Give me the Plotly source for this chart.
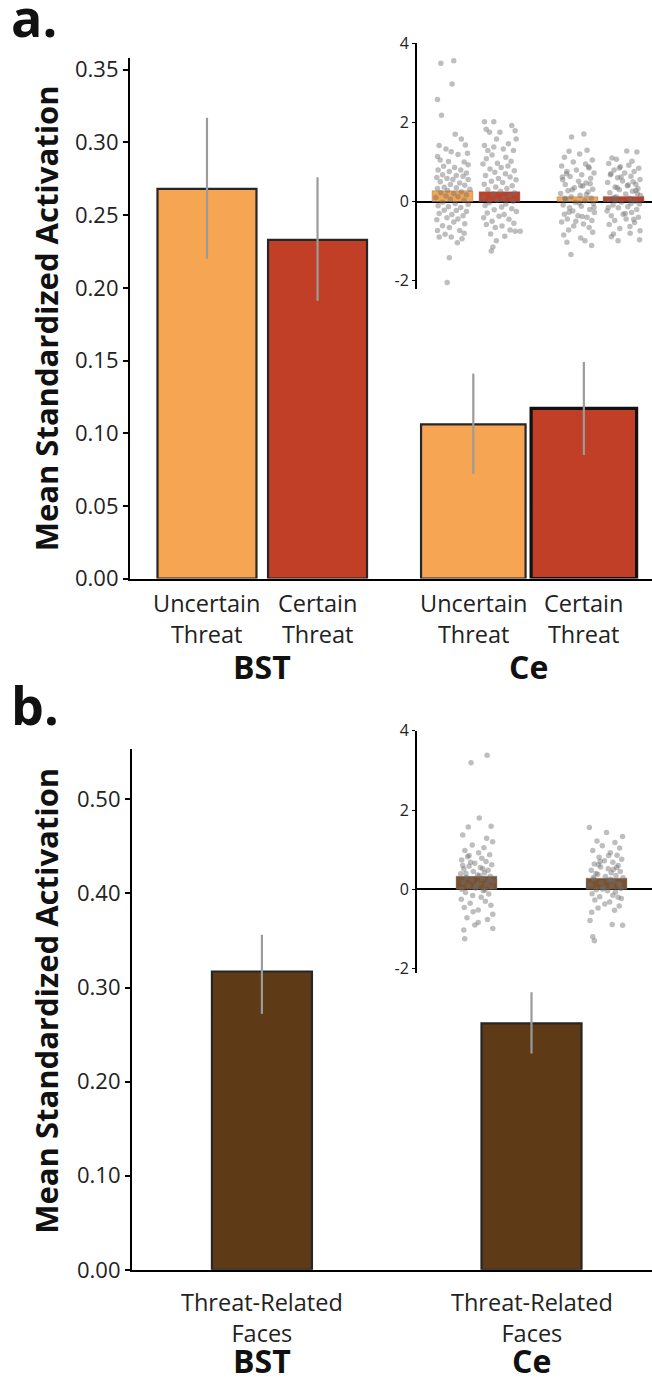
import plotly.graph_objects as go

# ---------------- DATA ----------------
a_conditions = ["Uncertain<br>Threat", "Certain<br>Threat", "Uncertain<br>Threat", "Certain<br>Threat"]
regions = ["BST", "Ce"]
a_means = [0.268, 0.233, 0.106, 0.117]
a_err_hi = [0.317, 0.276, 0.141, 0.149]
a_err_lo = [0.220, 0.191, 0.072, 0.085]
a_inset_means = [0.27, 0.25, 0.12, 0.13]

b_conditions = ["Threat-Related<br>Faces", "Threat-Related<br>Faces"]
b_means = [0.317, 0.262]
b_err_hi = [0.356, 0.295]
b_err_lo = [0.272, 0.230]
b_inset_means = [0.33, 0.28]

a_yticks = [0.00, 0.05, 0.10, 0.15, 0.20, 0.25, 0.30, 0.35]
b_yticks = [0.00, 0.10, 0.20, 0.30, 0.40, 0.50]
inset_ticks = [-2, 0, 2, 4]

# individual subject values (read approx. from the insets), with horizontal jitter
a1_y = [3.50,3.56,2.97,2.58,2.18,1.70,1.58,1.42,1.43,1.33,1.26,1.22,1.14,1.19,1.05,1.01,1.00,0.93,0.89,0.86,0.80,0.80,0.76,0.72,0.68,0.66,0.61,0.64,0.58,0.56,0.56,0.50,0.47,0.43,0.41,0.36,0.35,0.33,0.31,0.28,0.25,0.22,0.20,0.17,0.14,0.12,0.10,0.06,0.03,-0.02,-0.05,-0.07,-0.11,-0.13,-0.15,-0.22,-0.23,-0.25,-0.30,-0.33,-0.36,-0.41,-0.44,-0.46,-0.52,-0.56,-0.61,-0.66,-0.73,-0.73,-0.80,-0.83,-0.90,-0.90,-0.94,-1.04,-1.42,-2.05]
a1_dx = [-0.55,0.06,-0.02,-0.71,-0.52,0.13,0.42,-0.63,0.61,-0.31,-0.06,0.71,-0.71,0.26,-0.58,-0.19,0.55,0.74,-0.42,0.10,-0.68,0.39,-0.15,0.66,-0.47,0.18,-0.74,0.50,-0.26,0.02,0.74,-0.58,0.34,-0.10,0.58,-0.39,0.18,-0.71,0.82,-0.23,0.42,-0.55,0.06,0.66,-0.31,0.26,-0.79,-0.10,0.55,-0.47,0.13,0.74,-0.68,-0.19,0.39,-0.39,0.18,0.66,-0.63,-0.03,0.50,-0.26,0.26,-0.74,0.06,0.58,-0.47,-0.15,0.34,-0.71,0.55,-0.35,-0.63,-0.06,0.45,0.23,-0.15,-0.25]

a2_y = [2.02,2.02,1.92,1.83,1.75,1.75,1.79,1.58,1.58,1.42,1.38,1.46,1.29,1.33,1.29,1.18,1.12,1.08,1.02,0.97,0.95,0.90,0.86,0.82,0.78,0.74,0.70,0.66,0.62,0.58,0.55,0.51,0.48,0.44,0.40,0.37,0.33,0.30,0.26,0.22,0.19,0.15,0.11,0.08,0.04,0.01,-0.03,-0.06,-0.10,-0.14,-0.18,-0.21,-0.25,-0.29,-0.33,-0.37,-0.41,-0.45,-0.50,-0.55,-0.58,-0.62,-0.66,-0.72,-0.75,-0.75,-0.82,-0.88,-0.99,-1.15,-1.25]
a2_dx = [-0.71,-0.27,0.58,-0.63,-0.47,0.02,0.74,-0.14,0.79,-0.71,-0.27,0.42,-0.55,0.18,0.66,-0.35,0.30,-0.62,0.55,-0.10,-0.78,0.40,0.08,-0.45,0.70,-0.22,0.28,-0.66,0.50,-0.05,0.78,-0.38,0.15,-0.72,0.60,-0.18,0.35,-0.55,0.05,0.72,-0.30,0.48,-0.75,0.20,-0.12,0.65,-0.48,0.30,-0.68,0.10,0.58,-0.25,0.80,-0.58,0.22,-0.02,-0.75,0.45,-0.35,0.68,-0.62,0.12,-0.20,0.50,0.74,0.98,-0.42,0.25,-0.15,-0.31,-0.39]

a3_y = [1.71,1.63,1.30,1.27,1.20,1.12,1.05,1.00,0.95,0.90,0.85,0.80,0.76,0.72,0.68,0.63,0.59,0.55,0.51,0.47,0.43,0.39,0.35,0.31,0.27,0.24,0.20,0.16,0.12,0.09,0.05,0.02,-0.02,-0.05,-0.09,-0.12,-0.16,-0.20,-0.24,-0.28,-0.32,-0.36,-0.40,-0.44,-0.48,-0.52,-0.57,-0.62,-0.66,-0.72,-0.78,-0.85,-0.92,-0.99,-1.03,-1.11,-1.34,0.62,0.45,0.30,0.18,0.08,-0.04,-0.15,-0.27,-0.38,-0.50,0.88,0.70,0.40]
a3_dx = [0.30,-0.28,0.45,-0.40,0.10,-0.62,0.70,-0.20,0.38,-0.75,0.55,-0.05,-0.50,0.78,0.20,-0.35,0.62,-0.70,0.05,0.40,-0.58,0.25,-0.15,0.72,-0.45,0.50,-0.80,0.12,-0.30,0.65,-0.55,0.35,-0.10,0.75,-0.68,0.18,-0.38,0.58,-0.22,0.80,-0.62,0.02,0.45,-0.48,0.68,-0.75,0.28,-0.18,0.55,-0.42,0.72,-0.65,0.15,0.35,-0.50,0.67,-0.31,-0.72,0.60,-0.25,0.42,-0.60,0.08,0.78,-0.40,0.22,-0.08,0.52,-0.52,0.15]

a4_y = [1.28,1.25,1.10,1.07,1.02,0.96,0.92,0.88,0.84,0.80,0.76,0.72,0.68,0.64,0.60,0.56,0.52,0.48,0.44,0.40,0.37,0.33,0.30,0.26,0.22,0.19,0.15,0.12,0.08,0.05,0.01,-0.02,-0.06,-0.09,-0.13,-0.16,-0.20,-0.24,-0.28,-0.32,-0.36,-0.40,-0.44,-0.48,-0.53,-0.58,-0.63,-0.68,-0.74,-0.80,-0.82,-0.89,-0.97,-0.99,0.70,0.50,0.35,0.20,0.10,-0.05,-0.15,-0.30,0.62,0.42,0.28,0.02,-0.45,0.85]
a4_dx = [0.15,0.63,-0.55,-0.34,0.40,-0.70,0.25,-0.15,0.72,-0.45,0.50,0.05,-0.62,0.35,-0.28,0.78,-0.05,-0.75,0.58,0.18,-0.40,0.68,-0.20,0.42,-0.65,0.10,0.80,-0.35,0.28,-0.72,0.55,-0.10,0.75,-0.50,0.20,-0.25,0.62,-0.78,0.38,-0.02,-0.58,0.70,0.12,-0.42,0.52,-0.68,0.30,-0.18,0.78,0.31,-0.48,-0.58,0.76,-0.26,-0.60,0.45,-0.30,0.65,-0.45,0.35,-0.72,0.08,-0.12,0.22,0.58,-0.38,0.48,-0.20]

b1_y = [3.38,3.19,1.80,1.59,1.57,1.37,1.29,1.20,1.12,1.05,0.98,0.92,0.87,0.82,0.78,0.74,0.70,0.66,0.62,0.58,0.55,0.51,0.48,0.45,0.42,0.39,0.36,0.33,0.30,0.27,0.24,0.21,0.18,0.15,0.12,0.09,0.06,0.03,0.00,-0.04,-0.08,-0.12,-0.16,-0.20,-0.25,-0.30,-0.35,-0.40,-0.46,-0.52,-0.57,-0.63,-0.72,-0.76,-0.84,-0.90,-0.99,-1.03,-1.25,0.68,0.52,0.40,0.22,0.10,-0.02,0.60,0.35,0.85]
b1_dx = [0.50,-0.26,0.13,0.69,-0.39,-0.65,0.48,0.76,-0.20,0.35,-0.55,0.10,0.62,-0.42,0.25,-0.70,0.45,-0.08,0.72,-0.35,0.18,-0.60,0.55,-0.15,0.38,-0.75,0.05,0.65,-0.48,0.28,-0.22,0.78,-0.62,0.12,0.48,-0.38,0.70,-0.05,-0.70,0.32,-0.52,0.58,-0.18,0.22,-0.72,0.42,-0.30,0.68,-0.58,0.08,-0.16,0.77,-0.45,0.52,0.08,-0.08,0.77,-0.60,-0.56,-0.28,0.30,-0.50,0.60,0.00,0.40,-0.65,0.15,-0.35]

b2_y = [1.56,1.43,1.33,1.22,1.18,1.10,1.04,0.98,0.92,0.86,0.81,0.76,0.72,0.68,0.64,0.60,0.56,0.52,0.48,0.45,0.42,0.38,0.35,0.32,0.29,0.26,0.23,0.20,0.17,0.14,0.11,0.08,0.05,0.02,-0.01,-0.04,-0.07,-0.11,-0.15,-0.19,-0.23,-0.27,-0.32,-0.37,-0.42,-0.47,-0.53,-0.58,-0.79,-0.89,-0.91,-1.20,-1.30,0.70,0.55,0.40,0.25,0.12,0.00,0.50,0.30,0.85,-0.20,0.62]
b2_dx = [-0.81,0.00,0.76,-0.45,0.40,-0.20,0.62,-0.65,0.18,0.50,-0.35,0.72,-0.10,0.30,-0.58,0.55,-0.28,0.08,-0.72,0.65,0.22,-0.42,0.45,-0.05,0.78,-0.60,0.12,0.35,-0.25,0.58,-0.75,0.25,-0.15,0.68,-0.48,0.05,0.42,-0.68,0.30,-0.32,0.70,-0.55,0.15,-0.08,0.60,-0.40,0.38,-0.70,-0.78,0.27,0.76,-0.65,-0.57,-0.30,0.48,-0.50,0.20,0.65,-0.18,0.32,-0.62,0.10,0.55,-0.38]

# ---------------- STYLE / LAYOUT ----------------
W, H = 652, 1384
FONT = "Open Sans"
ORANGE, RED, BROWN = "#F6A552", "#C03F26", "#5E3A16"
a_colors = [ORANGE, RED, ORANGE, RED]
b_colors = [BROWN, BROWN]
EDGE = "#262626"
ERR = "#9B9B9B"
PT = "rgba(110,110,110,0.45)"

def fx(p):
    return p / W

def fy(p):
    return 1 - p / H

a_pos = [0, 1.1, 2.65, 3.75]
a_wid = [0.985, 0.985, 1.04, 1.05]
b_pos = [0, 1]
b_wid = 0.371
ai_pos = [0, 1, 2.66, 3.64]
bi_pos = [0, 2.766]
INSET_W = 0.87
JIT = 0.45

fig = go.Figure()

# Panel a main bars
fig.add_trace(go.Bar(
    x=a_pos, y=a_means, width=a_wid,
    marker=dict(color=a_colors, line=dict(color=[EDGE, EDGE, EDGE, "#111111"], width=[2.2, 2.2, 2.2, 3.2])),
    error_y=dict(type="data", symmetric=False,
                 array=[h - m for h, m in zip(a_err_hi, a_means)],
                 arrayminus=[m - l for m, l in zip(a_means, a_err_lo)],
                 color=ERR, thickness=2.2, width=0),
    xaxis="x", yaxis="y", showlegend=False, hoverinfo="skip"))

# Panel a inset bars + points
fig.add_trace(go.Bar(
    x=ai_pos, y=a_inset_means, width=INSET_W,
    marker=dict(color=a_colors, line=dict(color="rgba(120,120,120,0.6)", width=0.6)),
    xaxis="x2", yaxis="y2", showlegend=False, hoverinfo="skip"))
for c, ys, dxs in zip(ai_pos, [a1_y, a2_y, a3_y, a4_y], [a1_dx, a2_dx, a3_dx, a4_dx]):
    pts = list(zip(dxs, ys))
    fig.add_trace(go.Scatter(
        x=[c + d * JIT for d, _ in pts], y=[v for _, v in pts], mode="markers",
        marker=dict(size=5.5, color=PT, line=dict(width=0)),
        xaxis="x2", yaxis="y2", showlegend=False, hoverinfo="skip"))

# Panel b main bars
fig.add_trace(go.Bar(
    x=b_pos, y=b_means, width=b_wid,
    marker=dict(color=b_colors, line=dict(color=EDGE, width=2.2)),
    error_y=dict(type="data", symmetric=False,
                 array=[h - m for h, m in zip(b_err_hi, b_means)],
                 arrayminus=[m - l for m, l in zip(b_means, b_err_lo)],
                 color=ERR, thickness=2.2, width=0),
    xaxis="x3", yaxis="y3", showlegend=False, hoverinfo="skip"))

# Panel b inset
fig.add_trace(go.Bar(
    x=bi_pos, y=b_inset_means, width=INSET_W,
    marker=dict(color="#7A5230", line=dict(color="rgba(120,120,120,0.6)", width=0.6)),
    xaxis="x4", yaxis="y4", showlegend=False, hoverinfo="skip"))
for c, ys, dxs in zip(bi_pos, [b1_y, b2_y], [b1_dx, b2_dx]):
    pts = list(zip(dxs, ys))
    fig.add_trace(go.Scatter(
        x=[c + d * JIT for d, _ in pts], y=[v for _, v in pts], mode="markers",
        marker=dict(size=5.5, color=PT, line=dict(width=0)),
        xaxis="x4", yaxis="y4", showlegend=False, hoverinfo="skip"))

tickfont_main = dict(family=FONT, size=22, color="#222222")
tickfont_inset = dict(family=FONT, size=16, color="#222222")

def main_y(domain, rng, ticks, fmt):
    return dict(domain=domain, range=rng, showgrid=False, zeroline=False,
                showline=True, linecolor="black", linewidth=2.2,
                tickvals=ticks, ticktext=[fmt.format(t) for t in ticks],
                ticks="outside", ticklen=5, tickwidth=1.5, tickcolor="black",
                tickfont=tickfont_main, fixedrange=True)

def main_x(domain, rng):
    return dict(domain=domain, range=rng, showgrid=False, zeroline=False,
                showline=True, linecolor="black", linewidth=2.2,
                showticklabels=False, ticks="", fixedrange=True)

def inset_y(domain, rng, anchor):
    return dict(domain=domain, range=rng, anchor=anchor, showgrid=False,
                zeroline=True, zerolinecolor="black", zerolinewidth=2,
                showline=True, linecolor="black", linewidth=2,
                tickvals=inset_ticks, ticktext=[str(t) for t in inset_ticks],
                ticks="outside", ticklen=3, tickwidth=1, tickcolor="black",
                tickfont=tickfont_inset, fixedrange=True)

def inset_x(domain, rng, anchor):
    return dict(domain=domain, range=rng, anchor=anchor, visible=False, fixedrange=True)

fig.update_layout(
    width=W, height=H,
    margin=dict(l=0, r=0, t=0, b=0),
    paper_bgcolor="white", plot_bgcolor="rgba(0,0,0,0)",
    barmode="overlay",
    font=dict(family=FONT, color="#111111"),
    xaxis=dict(main_x([fx(130), 1.0], [-0.766, 4.428]), anchor="y"),
    yaxis=dict(main_y([fy(578), fy(48)], [0, 0.358], a_yticks, "{:.2f}"), anchor="x"),
    xaxis2=inset_x([fx(417), 1.0], [-0.755, 4.245], "y2"),
    yaxis2=inset_y([fy(283), fy(33)], [-2.21, 4.0], "x2"),
    xaxis3=dict(main_x([fx(132), 1.0], [-0.482, 1.447]), anchor="y3"),
    yaxis3=dict(main_y([fy(1282), fy(752)], [0, 0.553], b_yticks, "{:.2f}"), anchor="x3"),
    xaxis4=inset_x([fx(417), 1.0], [-1.266, 3.734], "y4"),
    yaxis4=inset_y([fy(980), fy(733)], [-2.12, 4.0], "x4"),
)

ann = []
cond_font = dict(family=FONT, size=23.5, color="#222222")
region_font = dict(family=FONT, size=32, color="#111111")
title_font = dict(family=FONT, size=31, color="#111111")
panel_font = dict(family=FONT, size=52, color="#111111")

for p, t in zip(a_pos, a_conditions):
    ann.append(dict(x=p, xref="x", y=fy(585), yref="paper", text=t, showarrow=False,
                    xanchor="center", yanchor="top", font=cond_font))
for (p1, p2), r in zip([(a_pos[0], a_pos[1]), (a_pos[2], a_pos[3])], regions):
    ann.append(dict(x=(p1 + p2) / 2, xref="x", y=fy(668), yref="paper", text="<b>%s</b>" % r,
                    showarrow=False, xanchor="center", yanchor="middle", font=region_font))
for p, t in zip(b_pos, b_conditions):
    ann.append(dict(x=p, xref="x3", y=fy(1296), yref="paper", text=t, showarrow=False,
                    xanchor="center", yanchor="top", font=cond_font))
for p, r in zip(b_pos, regions):
    ann.append(dict(x=p, xref="x3", y=fy(1374), yref="paper", text="<b>%s</b>" % r,
                    showarrow=False, xanchor="center", yanchor="middle", font=region_font))

ann.append(dict(x=fx(46), y=fy(313), xref="paper", yref="paper", text="<b>Mean Standardized Activation</b>",
                textangle=-90, showarrow=False, xanchor="center", yanchor="middle", font=title_font))
ann.append(dict(x=fx(46), y=fy(1008), xref="paper", yref="paper", text="<b>Mean Standardized Activation</b>",
                textangle=-90, showarrow=False, xanchor="center", yanchor="middle", font=title_font))
ann.append(dict(x=fx(9), y=fy(6), xref="paper", yref="paper", text="<b>a.</b>", showarrow=False,
                xanchor="left", yanchor="middle", font=panel_font))
ann.append(dict(x=fx(9), y=fy(706), xref="paper", yref="paper", text="<b>b.</b>", showarrow=False,
                xanchor="left", yanchor="middle", font=panel_font))

fig.update_layout(annotations=ann)

fig.write_html("out.html", config={"displayModeBar": False},
               post_script="document.body.style.margin='0';")
